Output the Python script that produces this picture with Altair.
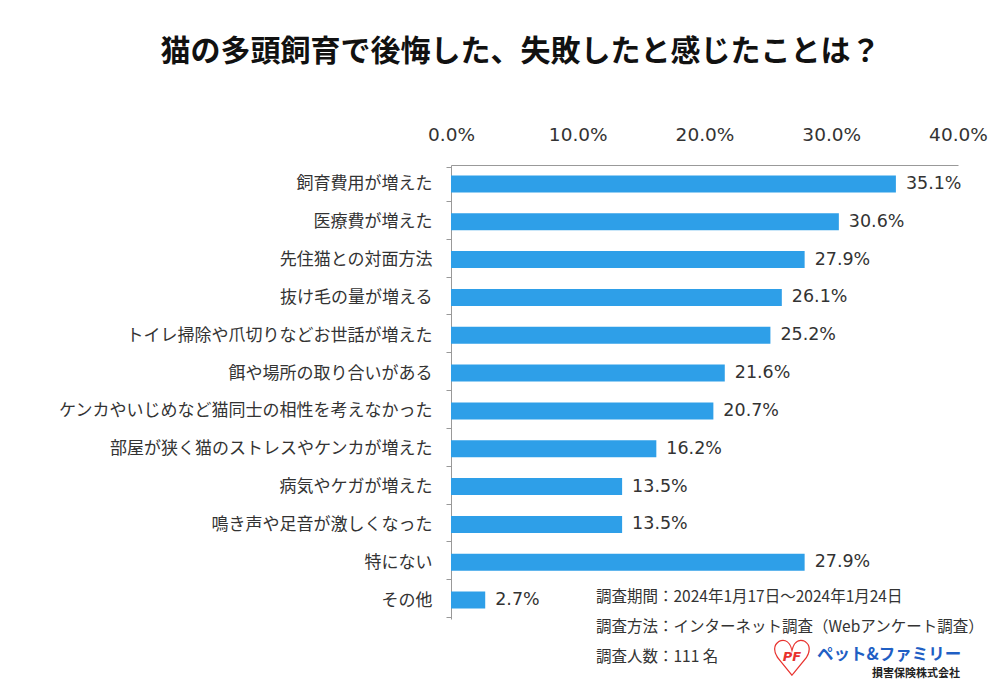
import altair as alt
import pandas as pd

categories = [
    "飼育費用が増えた",
    "医療費が増えた",
    "先住猫との対面方法",
    "抜け毛の量が増える",
    "トイレ掃除や爪切りなどお世話が増えた",
    "餌や場所の取り合いがある",
    "ケンカやいじめなど猫同士の相性を考えなかった",
    "部屋が狭く猫のストレスやケンカが増えた",
    "病気やケガが増えた",
    "鳴き声や足音が激しくなった",
    "特にない",
    "その他",
]
values = [0.351, 0.306, 0.279, 0.261, 0.252, 0.216, 0.207, 0.162, 0.135, 0.135, 0.279, 0.027]
tick_values = [0.0, 0.1, 0.2, 0.3, 0.4]
notes = [
    "調査期間：2024年1月17日～2024年1月24日",
    "調査方法：インターネット調査（Webアンケート調査）",
    "調査人数：111 名",
]

df = pd.DataFrame({"cat": categories, "val": values})

JP = "Noto Sans CJK JP"
NUM = "DejaVu Sans"
W, H = 507, 454

y_enc = alt.Y("cat:N", sort=None, title=None,
              axis=alt.Axis(labelFont=JP, labelFontSize=17, labelColor="#333333",
                            labelPadding=14, tickBand="extent", tickSize=5,
                            tickColor="#999999", domainColor="#999999",
                            labelLimit=420))
x_enc = alt.X("val:Q", title=None,
              scale=alt.Scale(domain=[0, 0.4], nice=False),
              axis=alt.Axis(orient="top", values=tick_values, format=".1%",
                            labelFont=NUM, labelFontSize=18.5, labelColor="#333333",
                            ticks=False, grid=False, domainColor="#999999",
                            labelPadding=21, labelFlush=False))

bars = alt.Chart(df).mark_bar(size=17, color="#2E9FE8").encode(x=x_enc, y=y_enc)
labels = alt.Chart(df).mark_text(align="left", baseline="middle", dx=10,
                                 font=NUM, fontSize=17.5, color="#333333").encode(
    x="val:Q", y=alt.Y("cat:N", sort=None), text=alt.Text("val:Q", format=".1%"))

note_layers = []
for i, t in enumerate(notes):
    note_layers.append(
        alt.Chart(pd.DataFrame({"t": [t]})).mark_text(
            align="left", baseline="middle", font=JP, fontSize=15.5, color="#333333"
        ).encode(x=alt.value(145), y=alt.value(432 + 30 * i), text="t:N")
    )

logo1 = alt.Chart(pd.DataFrame({"t": ["ペット&ファミリー"]})).mark_text(
    align="left", baseline="middle", font=JP, fontSize=16.5, fontWeight="bold",
    color="#1F5FC4").encode(x=alt.value(366), y=alt.value(490), text="t:N")
logo2 = alt.Chart(pd.DataFrame({"t": ["損害保険株式会社"]})).mark_text(
    align="left", baseline="middle", font=JP, fontSize=11, fontWeight="bold",
    color="#222222").encode(x=alt.value(421), y=alt.value(509), text="t:N")
heart = alt.Chart(pd.DataFrame({"t": ["♡"]})).mark_text(
    align="center", baseline="middle", font=NUM, fontSize=50, fontWeight="bold",
    color="#E8322E").encode(x=alt.value(341), y=alt.value(496), text="t:N")
pf = alt.Chart(pd.DataFrame({"t": ["PF"]})).mark_text(
    align="center", baseline="middle", font=NUM, fontSize=13, fontWeight="bold",
    fontStyle="italic", color="#E8322E").encode(x=alt.value(341), y=alt.value(492), text="t:N")

chart = alt.layer(bars, labels, *note_layers, heart, pf, logo1, logo2).properties(
    width=W, height=H,
    background="white",
    autosize=alt.AutoSizeParams(type="none"),
    padding={"left": 443, "top": 157, "right": 34, "bottom": 66},
    title=alt.TitleParams("猫の多頭飼育で後悔した、失敗したと感じたことは？",
                          font=JP, fontSize=30, fontWeight="bold", color="#111111",
                          anchor="middle", dx=-184, offset=58),
).configure_view(stroke=None)

chart.save("out.html", embed_options={"renderer": "svg", "actions": False})
